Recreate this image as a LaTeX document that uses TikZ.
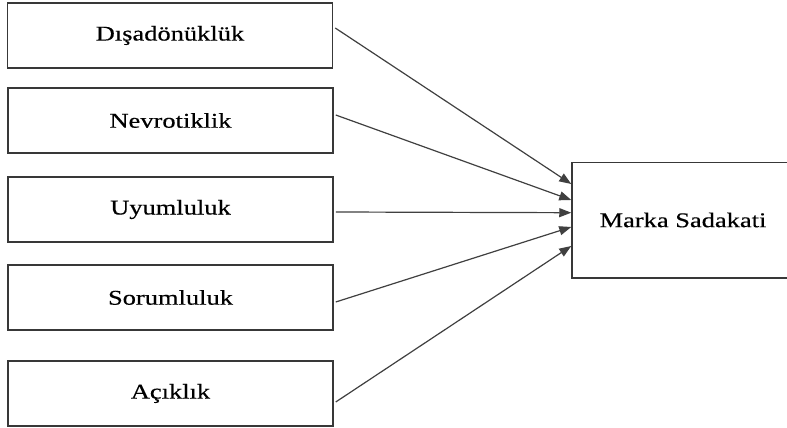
\documentclass[tikz,border=0pt]{standalone}
\usepackage{fontspec}
\setmainfont[FakeStretch=1.26,FakeBold=0.4]{Liberation Serif}
\usetikzlibrary{arrows.meta}
\definecolor{boxline}{HTML}{383838}
\definecolor{arrline}{HTML}{404040}
\begin{document}
\begin{tikzpicture}[x=1pt,y=-1pt,
  factor/.style={draw=boxline,line width=1.5pt,rectangle,minimum width=325pt,minimum height=65pt,inner sep=0pt,font=\fontsize{21pt}{24pt}\selectfont},
  target/.style={draw=boxline,line width=1.5pt,rectangle,minimum width=222pt,minimum height=115.5pt,inner sep=0pt,font=\fontsize{21pt}{24pt}\selectfont},
  link/.style={draw=arrline,line width=1.2pt,-{Triangle[length=12pt,width=9pt]}}]
\useasboundingbox (0,0) rectangle (787,428);
\clip (0,0) rectangle (787,428);
\fill[white] (0,0) rectangle (787,428);
\node[factor] (b1) at (170,35.5) {\raisebox{-3pt}{Dışadönüklük}};
\node[factor] (b2) at (170.5,120.5) {\raisebox{-3pt}{Nevrotiklik}};
\node[factor] (b3) at (170.5,209.5) {\raisebox{-3pt}{Uyumluluk}};
\node[factor] (b4) at (170.5,297.5) {\raisebox{-3pt}{Sorumluluk}};
\node[factor] (b5) at (170.5,393.5) {\raisebox{-3pt}{Açıklık}};
\node[target] (m) at (683,220) {\raisebox{-3pt}{Marka Sadakati}};
\draw[link] ([xshift=2pt,yshift=7.5pt]b1.east) -- ([yshift=36pt]m.west);
\draw[link] ([xshift=2pt,yshift=5.5pt]b2.east) -- ([yshift=20pt]m.west);
\draw[link] ([xshift=2pt,yshift=-2.5pt]b3.east) -- ([yshift=7.3pt]m.west);
\draw[link] ([xshift=2pt,yshift=-4.5pt]b4.east) -- ([yshift=-7pt]m.west);
\draw[link] ([xshift=2pt,yshift=-8.5pt]b5.east) -- ([yshift=-26pt]m.west);
\end{tikzpicture}
\end{document}
